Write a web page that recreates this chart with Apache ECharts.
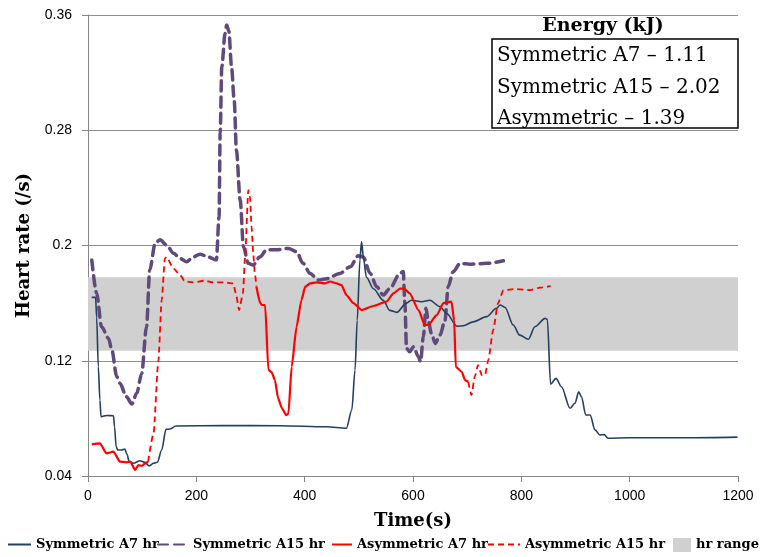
<!DOCTYPE html>
<html>
<head>
<meta charset="utf-8">
<script src="https://cdn.jsdelivr.net/npm/echarts@6/dist/echarts.min.js"></script>
<style>
  html, body { margin: 0; padding: 0; background: #fff; }
  #chart { width: 763px; height: 557px; }
</style>
</head>
<body>
<div id="chart"></div>
<script>
// Heart rate traces, [time (s), rate (/s)]
const symmetricA7 = [
  [7,0.164],[14,0.164],[16,0.15],[19,0.116],[22,0.0927],[24,0.0812],[35,0.082],[47,0.0818],
  [49,0.0742],[52,0.0603],[55,0.058],[62,0.058],[68,0.0587],[72,0.055],[76,0.050],[84,0.0488],
  [96,0.0506],[105,0.0495],[113,0.047],[121,0.0488],[128,0.0495],[136,0.058],[144,0.0724],
  [151,0.0726],[162,0.0747],[250,0.075],[354,0.0749],[440,0.0742],[477,0.0731],[487,0.0858],
  [493,0.1136],[497,0.148],[502,0.19],[505,0.2026],[509,0.19],[514,0.178],[527,0.170],
  [545,0.162],[557,0.155],[570,0.1536],[588,0.16],[597,0.162],[616,0.161],[631,0.162],
  [650,0.1575],[662,0.153],[681,0.144],[693,0.1443],[711,0.147],[736,0.1506],[754,0.1564],
  [761,0.1587],[770,0.157],[785,0.1448],[797,0.1378],[813,0.1349],[825,0.1436],[844,0.1494],
  [848,0.1487],[854,0.1038],[864,0.1078],[874,0.102],[890,0.087],[899,0.0905],[906,0.0985],
  [911,0.095],[919,0.0823],[927,0.0823],[936,0.072],[945,0.0685],[953,0.0687],[960,0.0662],
  [1000,0.0665],[1100,0.0665],[1199,0.067]
];
const symmetricA15 = [
  [7,0.19],[16,0.1668],[25,0.1436],[38,0.1355],[44,0.1274],[53,0.109],[59,0.1043],[71,0.095],
  [81,0.09],[90,0.0974],[99,0.111],[108,0.1436],[114,0.183],[124,0.2015],[133,0.204],
  [145,0.2003],[158,0.1946],[170,0.191],[182,0.1887],[194,0.192],[207,0.194],[222,0.192],
  [237,0.19],[242,0.22],[244,0.278],[247,0.324],[253,0.347],[256,0.353],[260,0.349],
  [265,0.324],[270,0.3003],[274,0.266],[281,0.2315],[287,0.199],[296,0.1876],[305,0.1864],
  [317,0.192],[330,0.197],[348,0.197],[370,0.198],[385,0.1957],[397,0.1876],[410,0.1806],
  [425,0.176],[441,0.177],[465,0.1806],[484,0.1852],[499,0.1929],[508,0.192],[521,0.1806],
  [533,0.1714],[545,0.1656],[557,0.170],[576,0.1806],[582,0.182],[585,0.16],[588,0.1286],
  [594,0.1262],[601,0.1297],[610,0.1228],[614,0.1193],[619,0.1367],[624,0.1564],[628,0.148],
  [634,0.139],[641,0.132],[650,0.138],[659,0.148],[665,0.1714],[674,0.1818],[687,0.1876],
  [705,0.187],[736,0.1876],[767,0.1894]
];
const asymmetricA7 = [
  [7,0.062],[22,0.0627],[34,0.0557],[47,0.0569],[59,0.050],[71,0.0495],[78,0.050],[87,0.0442],
  [93,0.0476],[99,0.047],[108,0.0495],[111,0.050],
  [200,null],
  [311,0.1714],[318,0.16],[321,0.1587],[327,0.1587],[333,0.1136],[339,0.112],[345,0.1066],
  [351,0.094],[358,0.087],[366,0.0823],[370,0.0835],[376,0.1158],[385,0.1436],[394,0.162],
  [401,0.1714],[410,0.1737],[422,0.1744],[437,0.1737],[447,0.175],[459,0.1737],[468,0.1725],
  [477,0.1656],[490,0.16],[505,0.1552],[527,0.158],[551,0.161],[564,0.1668],[576,0.170],
  [583,0.1702],[594,0.1668],[610,0.1552],[622,0.1448],[628,0.1448],[644,0.1517],[656,0.160],
  [671,0.161],[676,0.148],[679,0.1158],[690,0.1123],[696,0.1066],[702,0.1054]
];
const asymmetricA15 = [
  [111,0.050],[121,0.0696],[130,0.1205],[136,0.162],[142,0.191],[145,0.192],[158,0.184],
  [170,0.1795],[179,0.175],[194,0.1744],[216,0.1756],[231,0.1744],[250,0.1744],[268,0.1737],
  [273,0.1668],[279,0.1552],[286,0.1668],[290,0.192],[296,0.2385],[299,0.234],[302,0.213],
  [305,0.1945],[308,0.1807],[311,0.1714],
  [500,null],
  [702,0.1054],[708,0.0962],[714,0.1089],[720,0.117],[727,0.110],[733,0.110],[739,0.1205],
  [748,0.1413],[757,0.16],[767,0.169],[791,0.1698],[816,0.169],[834,0.1707],[854,0.1718]
];
// Target heart-rate band
const hrRange = [0.127, 0.178];
const energyTitle = 'Energy (kJ)';
const energyLines = ['Symmetric A7 – 1.11', 'Symmetric A15 – 2.02', 'Asymmetric – 1.39'];
const seriesNames = ['Symmetric A7 hr', 'Symmetric A15 hr', 'Asymmetric A7 hr', 'Asymmetric A15 hr', 'hr range'];

const NAVY = '#243F60', PURPLE = '#604A7B', RED = '#FF0000', BAND = '#D0D0D0';
const serif = 'DejaVu Serif';
const legendText = { fontFamily: serif, fontWeight: 'bold', fontSize: 13, color: '#000' };

// One legend block per entry so each sits at its own horizontal position.
// The line icons hide the marker symbol (opacity 0) and keep only the stroke.
function legendAt(left, name, w, extra) {
  return Object.assign({
    left: left, top: 538, padding: 0, itemWidth: w, itemHeight: 14, itemGap: 0,
    textStyle: legendText, selectedMode: false, data: [name],
    itemStyle: { opacity: 0 }
  }, extra || {});
}

const chart = echarts.init(document.getElementById('chart'), null, { renderer: 'canvas' });
chart.setOption({
  animation: false,
  backgroundColor: '#fff',
  grid: { left: 88, right: 25, top: 15, bottom: 81 },
  legend: [
    legendAt(7, seriesNames[0], 23),
    legendAt(157, seriesNames[1], 30),
    legendAt(331, seriesNames[2], 20),
    legendAt(487, seriesNames[3], 32),
    legendAt(673, { name: seriesNames[4], icon: 'rect', itemStyle: { color: BAND, opacity: 1 } }, 18,
      { itemStyle: {} })
  ],
  xAxis: {
    type: 'value', min: 0, max: 1200, interval: 200,
    name: 'Time(s)', nameLocation: 'middle', nameGap: 36,
    nameTextStyle: { fontFamily: serif, fontWeight: 'bold', fontSize: 18, color: '#000' },
    axisLine: { show: true, lineStyle: { color: '#868686' } },
    axisTick: { show: true, length: 6, lineStyle: { color: '#868686' } },
    axisLabel: { fontFamily: 'Liberation Sans', fontSize: 14, color: '#000', margin: 13,
      formatter: v => String(v) },
    splitLine: { show: false }
  },
  yAxis: {
    type: 'value', min: 0.04, max: 0.36, interval: 0.08,
    name: 'Heart rate (/s)', nameLocation: 'middle', nameGap: 55, nameRotate: 90,
    nameTextStyle: { fontFamily: serif, fontWeight: 'bold', fontSize: 18, color: '#000' },
    axisLine: { show: true, lineStyle: { color: '#868686' } },
    axisTick: { show: true, length: 6, lineStyle: { color: '#868686' } },
    axisLabel: { fontFamily: 'Liberation Sans', fontSize: 14, color: '#000', margin: 16,
      formatter: v => String(+v.toFixed(2)) },
    splitLine: { show: true, lineStyle: { color: '#8E8E8E', width: 1 } }
  },
  series: [
    {
      name: seriesNames[4], type: 'line', data: [], symbol: 'none', z: 1,
      itemStyle: { color: BAND }, lineStyle: { color: BAND },
      markArea: {
        silent: true, itemStyle: { color: BAND, opacity: 1 },
        data: [[{ yAxis: hrRange[0] }, { yAxis: hrRange[1] }]]
      }
    },
    {
      name: seriesNames[0], type: 'line', data: symmetricA7, symbol: 'none', z: 3,
      smooth: 0.3, smoothMonotone: 'x',
      itemStyle: { color: NAVY }, lineStyle: { color: NAVY, width: 1.6 }
    },
    {
      name: seriesNames[1], type: 'line', data: symmetricA15, symbol: 'none', z: 2,
      smooth: 0.3, smoothMonotone: 'x',
      itemStyle: { color: PURPLE },
      lineStyle: { color: PURPLE, width: 3.5, type: [10, 6], cap: 'round' }
    },
    {
      name: seriesNames[2], type: 'line', data: asymmetricA7, symbol: 'none', z: 4,
      smooth: 0.2, smoothMonotone: 'x', connectNulls: false,
      itemStyle: { color: RED }, lineStyle: { color: RED, width: 2.2 }
    },
    {
      name: seriesNames[3], type: 'line', data: asymmetricA15, symbol: 'none', z: 4,
      smooth: 0.2, smoothMonotone: 'x', connectNulls: false,
      itemStyle: { color: RED }, lineStyle: { color: RED, width: 1.8, type: [6, 4] }
    }
  ],
  graphic: [
    {
      type: 'text', z: 10, x: 603, y: 26,
      style: { text: energyTitle, fontFamily: serif, fontWeight: 'bold', fontSize: 19,
        fill: '#000', align: 'center', verticalAlign: 'middle' }
    },
    {
      type: 'rect', z: 10,
      shape: { x: 492, y: 39, width: 246, height: 89 },
      style: { fill: '#fff', stroke: '#000', lineWidth: 1.5 }
    },
    ...energyLines.map((t, i) => ({
      type: 'text', z: 11, x: 497, y: [56, 88, 119][i],
      style: { text: t, fontFamily: serif, fontSize: 20, fill: '#000',
        align: 'left', verticalAlign: 'middle' }
    }))
  ]
});
</script>
</body>
</html>
